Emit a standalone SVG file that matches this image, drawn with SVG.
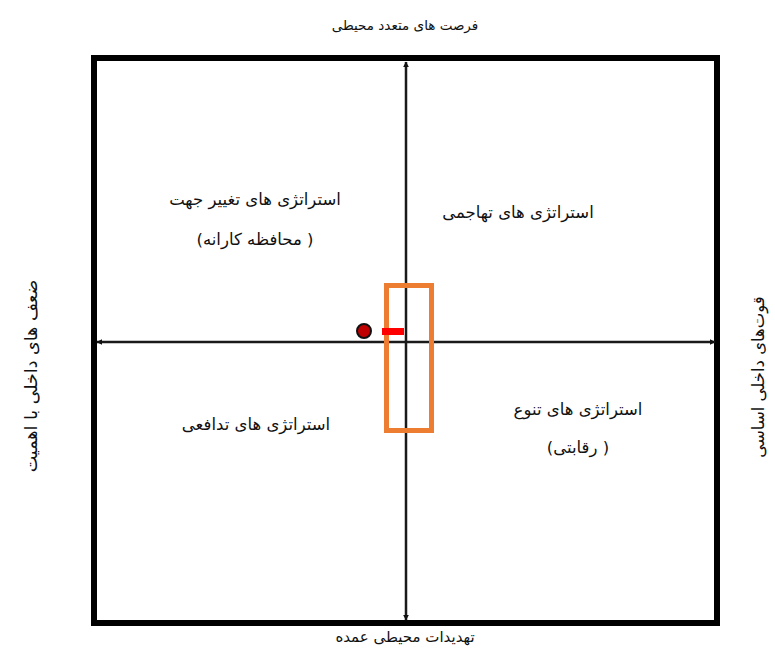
<svg xmlns="http://www.w3.org/2000/svg" width="775" height="650" viewBox="0 0 775 650">
<style>
text{font-family:"DejaVu Sans","Noto Sans",sans-serif;font-size:16.5px;fill:#111;text-anchor:middle;direction:rtl}
.axis{stroke:#1a1a1a;stroke-width:2.5;fill:none}
</style>
<defs>
<marker id="ah" viewBox="0 0 10 10" refX="9" refY="5" markerWidth="6" markerHeight="6" orient="auto-start-reverse" markerUnits="userSpaceOnUse">
<path d="M0,0 L10,5 L0,10 z" fill="#111"/>
</marker>
</defs>
<rect width="775" height="650" fill="#fff"/>
<g id="frame"><rect x="94" y="58" width="623" height="565" fill="none" stroke="#000" stroke-width="6"/></g>
<g id="connectors">
<line class="axis" x1="97" y1="342" x2="715" y2="342" marker-start="url(#ah)" marker-end="url(#ah)"/>
<line class="axis" x1="406" y1="62" x2="406" y2="620" marker-start="url(#ah)" marker-end="url(#ah)"/>
</g>
<g id="highlight">
<rect x="386.5" y="285.5" width="45" height="145" fill="none" stroke="#ED7D31" stroke-width="5"/>
<rect x="382" y="328" width="22" height="7" fill="#FF0000"/>
<circle cx="364" cy="331" r="7" fill="#C00000" stroke="#111" stroke-width="2"/>
</g>
<g id="label-top"><text x="405" y="30" style="font-size:13.5px">فرصت های متعدد محیطی</text></g>
<g id="label-bottom"><text x="405" y="642" style="font-size:15px">تهدیدات محیطی عمده</text></g>
<g id="label-left"><text transform="translate(37,376) rotate(-90)" style="font-size:17.5px">ضعف های داخلی با اهمیت</text></g>
<g id="label-right"><text transform="translate(764,377) rotate(-90)">قوت‌های داخلی اساسی</text></g>
<g id="q-tl"><text x="255" y="205">استراتژی های تغییر جهت</text><text x="255" y="245">( محافظه کارانه)</text></g>
<g id="q-tr"><text x="518" y="218">استراتژی های تهاجمی</text></g>
<g id="q-bl"><text x="256" y="430">استراتژی های تدافعی</text></g>
<g id="q-br"><text x="578" y="415">استراتژی های تنوع</text><text x="578" y="453">( رقابتی)</text></g>
</svg>
